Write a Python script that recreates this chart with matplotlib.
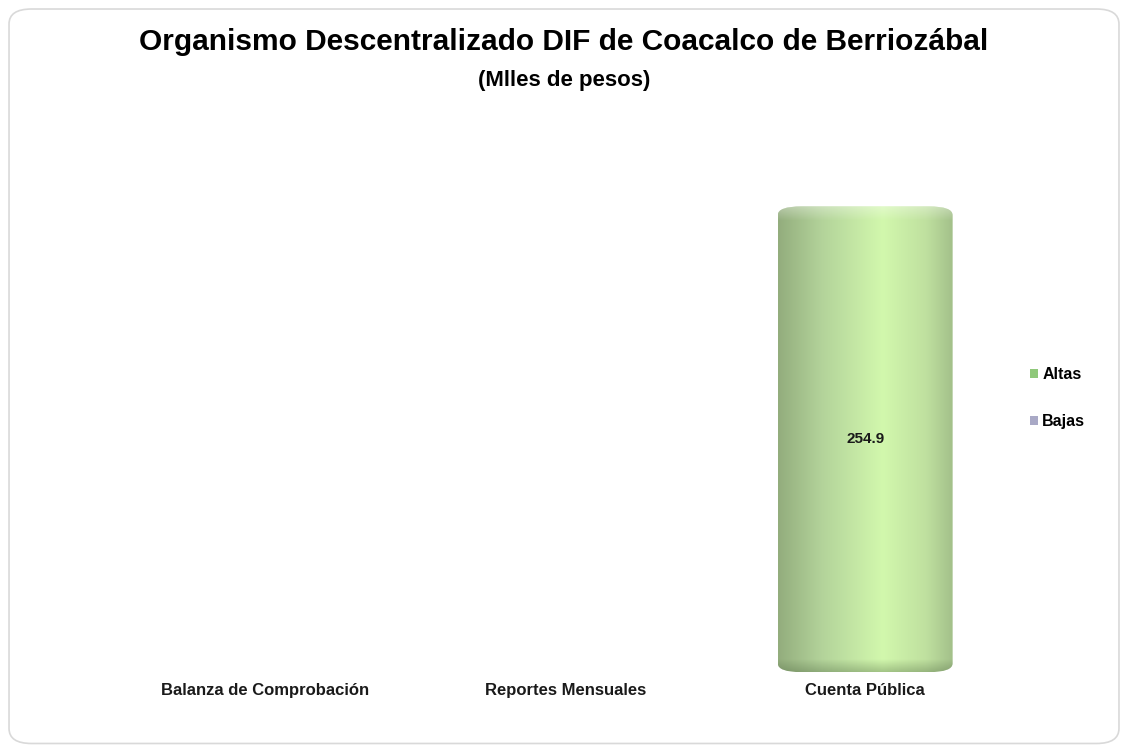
import numpy as np
import matplotlib
matplotlib.use("Agg")
import matplotlib.pyplot as plt
from matplotlib.patches import FancyBboxPatch, Patch
from matplotlib.colors import LinearSegmentedColormap

plt.rcParams['font.family'] = ['Liberation Sans', 'DejaVu Sans']

categories = ['Balanza de Comprobación', 'Reportes Mensuales', 'Cuenta Pública']
altas = [0, 0, 254.9]
bajas = [0, 0, 0]

fig = plt.figure(figsize=(11.28, 7.51), dpi=100)

# rounded outer frame
frame = FancyBboxPatch((0.008, 0.01), 0.984, 0.978, boxstyle="round,pad=0,rounding_size=0.02",
                       transform=fig.transFigure, fc='none', ec='#d9d9d9', lw=1.2, zorder=-1)
fig.patches.append(frame)

ax = fig.add_axes([0.102, 0.105, 0.798, 0.73])
ax.set_xlim(-0.5, 2.5)
ax.set_ylim(0, 300)
ax.axis('off')

x = np.arange(len(categories))
bars = ax.bar(x, altas, width=0.583, color='none', edgecolor='none')

# cylinder-like shading
cmap = LinearSegmentedColormap.from_list('cyl', [
    (0.0, '#93ad7d'), (0.25, '#b3d39a'), (0.6, '#d2f8ad'), (0.85, '#bfe09f'), (1.0, '#a3c08a')])
grad = np.linspace(0, 1, 256)[None, :]
for b, v in zip(bars, altas):
    if v <= 0:
        continue
    x0, w, h = b.get_x(), b.get_width(), b.get_height()
    clip = FancyBboxPatch((x0, 0), w, h, boxstyle="round,pad=0,rounding_size=0.08",
                          mutation_aspect=60, transform=ax.transData, fc='none', ec='none')
    ax.add_patch(clip)
    im = ax.imshow(grad, cmap=cmap, extent=(x0, x0 + w, 0, h), aspect='auto', zorder=2)
    im.set_clip_path(clip)
    # lighter top cap and darker bottom rim
    top = ax.imshow(np.linspace(0, 1, 50)[:, None], cmap=LinearSegmentedColormap.from_list(
        'cap', [(1, 1, 1, 0), (1, 1, 1, 0.35)]), extent=(x0, x0 + w, h - 8, h),
        aspect='auto', zorder=3, origin='lower')
    top.set_clip_path(clip)
    bot = ax.imshow(np.linspace(0, 1, 50)[:, None], cmap=LinearSegmentedColormap.from_list(
        'rim', [(0.3, 0.4, 0.25, 0.35), (0.3, 0.4, 0.25, 0)]), extent=(x0, x0 + w, 0, 7),
        aspect='auto', zorder=3, origin='lower')
    bot.set_clip_path(clip)
    ax.text(x0 + w / 2, h / 2, f'{v:.1f}', ha='center', va='center',
            fontsize=11, fontweight='bold', color='#1a1a1a', zorder=4)

for xi, cat in zip(x, categories):
    ax.text(xi, -6, cat, ha='center', va='top', fontsize=12, fontweight='bold',
            color='#1a1a1a')

fig.text(0.5, 0.944, 'Organismo Descentralizado DIF de Coacalco de Berriozábal',
         ha='center', va='center', fontsize=21.5, fontweight='bold')
fig.text(0.5, 0.893, '(Mlles de pesos)', ha='center', va='center',
         fontsize=16, fontweight='bold')

handles = [Patch(fc='#8fc87a', ec='none'), Patch(fc='#a9a9c6', ec='none')]
fig.legend(handles, ['Altas', 'Bajas'], loc='center left', bbox_to_anchor=(0.9, 0.47),
           frameon=False, handlelength=0.5, handleheight=0.5, handletextpad=0.3,
           labelspacing=2.0, prop={'weight': 'bold', 'size': 11.5})

fig.savefig('out.png', dpi=100)
